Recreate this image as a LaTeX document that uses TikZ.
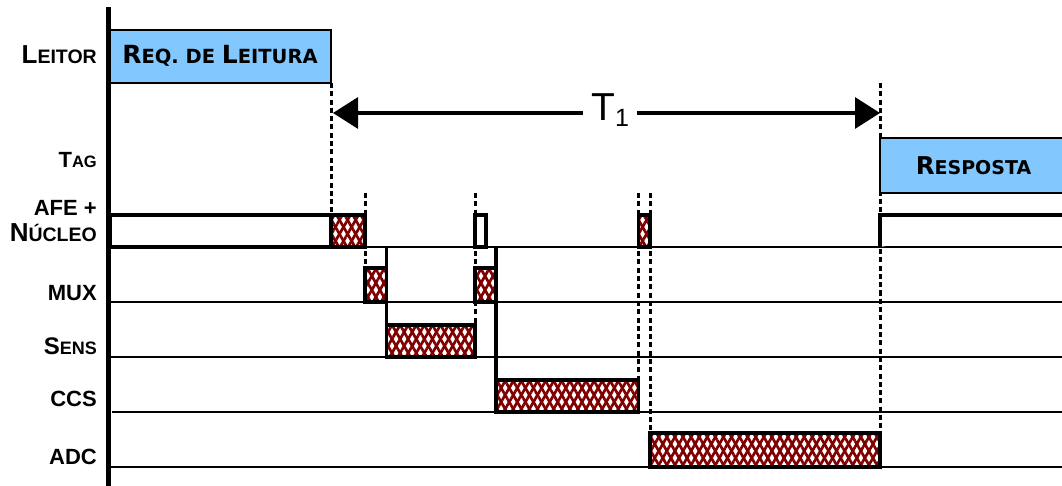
\documentclass[tikz,border=0pt]{standalone}
\usepackage{fontspec}
\setmainfont{Liberation Sans}
\newfontfamily\boxfont{DejaVu Sans}
\usetikzlibrary{arrows.meta,patterns.meta}
\definecolor{hatchred}{RGB}{128,0,0}
\definecolor{boxblue}{RGB}{130,200,255}
\newcommand{\bs}[4]{{\fontsize{#1}{#1}\selectfont #3}{\fontsize{#2}{#2}\selectfont #4}}
\tikzset{
  lbl/.style={anchor=base east, inner sep=0pt, font=\bfseries},
  boxtxt/.style={anchor=base, inner sep=0pt, font=\boxfont\bfseries},
  baseln/.style={line width=2.7pt},
  boxline/.style={line width=3.3pt, line join=miter},
  dashln/.style={line width=3pt, dash pattern=on 5pt off 3.3pt},
  hatch/.style={boxline,
    preaction={fill=white},
    preaction={pattern={Lines[angle=60,distance=7pt,line width=2.7pt]}, pattern color=hatchred},
    preaction={pattern={Lines[angle=-60,distance=7pt,line width=2.7pt]}, pattern color=hatchred}},
  tip/.style={line width=3.2pt, {Triangle[length=25pt,width=31pt]}-{Triangle[length=25pt,width=31pt]}}
}
\begin{document}
\begin{tikzpicture}[x=1pt,y=-1pt]
\useasboundingbox (0,0) rectangle (1062,486);
% dashed guide lines
\draw[dashln] (331,83) -- (331,215);
\draw[dashln] (365,193) -- (365,268);
\draw[dashln] (475,193) -- (475,325);
\draw[dashln] (638.5,193) -- (638.5,380);
\draw[dashln] (650,193) -- (650,433);
\draw[dashln] (880,83) -- (880,433);
% Leitor
\draw[boxline, line width=2.6pt, fill=boxblue] (110,30) rectangle (331,83);
\node[boxtxt] (req) at (220,64) {\bs{25}{19.5}{R}{EQ. DE }\bs{25}{19.5}{L}{EITURA}};
% Tag
\draw[boxline, line width=2.6pt, fill=boxblue] (1066,138) -- (880,138) -- (880,193) -- (1066,193);
\node[boxtxt] (resp) at (973.5,175) {\bs{24.5}{19}{R}{ESPOSTA}};
% T1 arrow
\coordinate (tL) at (333,113);
\coordinate (tR) at (880,113);
\draw[tip] (tL) -- (tR);
\node[anchor=base west, fill=white, inner xsep=8pt, inner ysep=1pt, font=\fontsize{39}{39}\selectfont] (t1) at (583,121) {T\raisebox{-6pt}{\fontsize{25}{25}\selectfont 1}};
% baselines
\draw[baseln] (110,247) -- (1062,247);
\draw[baseln] (110,302) -- (1062,302);
\draw[baseln] (110,357) -- (1062,357);
\draw[baseln] (112,412) -- (1062,412);
\draw[baseln] (110,467) -- (1062,467);
% AFE + Nucleo
\draw[boxline, fill=white] (110,215) rectangle (331,247);
\draw[hatch] (331,215) rectangle (365,247);
\draw[boxline, fill=white] (475,215) rectangle (486,247);
\draw[hatch] (638.5,215) rectangle (650,247);
\draw[boxline, fill=white] (1066,215) -- (880,215) -- (880,247);
% MUX
\draw[hatch] (365,268) rectangle (386.5,302);
\draw[hatch] (475,268) rectangle (496,302);
\draw[boxline] (386.5,247) -- (386.5,357);
\draw[boxline] (496,247) -- (496,412);
% SENS
\draw[hatch] (386.5,325) rectangle (475,357);
% CCS
\draw[hatch] (496,380) rectangle (638.5,412);
% ADC
\draw[hatch] (650,433) rectangle (880,467);
% axis
\draw[line width=5pt] (108,7) -- (108,486);
% labels
\node[lbl] (lleitor) at (97,64) {\bs{26}{19.5}{L}{EITOR}};
\node[lbl] (ltag) at (97,168) {\bs{22}{16.5}{T}{AG}};
\node[lbl] (lafe) at (97,216) {\bs{22}{22}{AFE +}{}};
\node[lbl] (lnuc) at (97,242) {\bs{26}{19.5}{N}{ÚCLEO}};
\node[lbl] (lmux) at (97,300) {\bs{22}{22}{MUX}{}};
\node[lbl] (lsens) at (97,354) {\bs{24}{18}{S}{ENS}};
\node[lbl] (lccs) at (97,406) {\bs{22}{22}{CCS}{}};
\node[lbl] (ladc) at (97,464) {\bs{22}{22}{ADC}{}};
\end{tikzpicture}
\end{document}
